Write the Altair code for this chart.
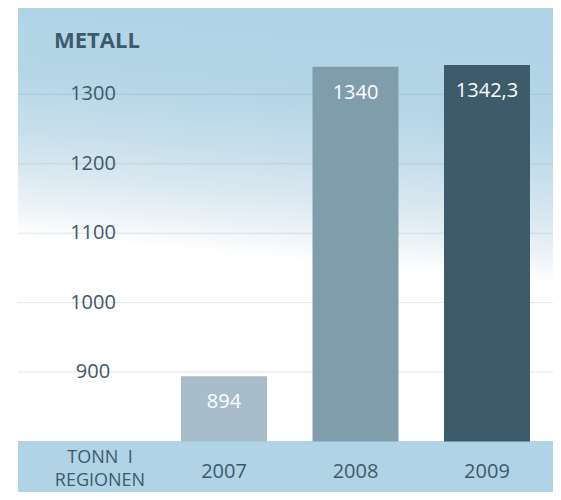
import altair as alt
import pandas as pd

# ---- data ----
years = ["2007", "2008", "2009"]
values = [894, 1340, 1342.3]
value_labels = ["894", "1340", "1342,3"]
bar_colors = ["#a7bdca", "#809dab", "#3e5b6c"]
y_ticks = [900, 1000, 1100, 1200, 1300]
title_text = "METALL"
unit_lines = ["TONN\u00a0\u00a0I", "REGIONEN"]

TEXT = "#3d5a6b"
FONT = "Open Sans"
W, H = 535, 484

bars_df = pd.DataFrame({"year": years, "value": values, "label": value_labels,
                        "base": [800] * len(years)})
ticks_df = pd.DataFrame({"tick": y_ticks})

yscale = alt.Scale(domain=[727.1, 1424.5], nice=False, zero=False)
xscale = alt.Scale(domain=years, range=[163, 512], paddingInner=0.346, paddingOuter=0)

one = pd.DataFrame({"k": [0]})

bg = alt.Chart(one).mark_rect(
    fill=alt.Gradient(
        gradient="linear",
        x1=0.1155, y1=0, x2=0, y2=1,
        stops=[
            alt.GradientStop(color="#b0d4e6", offset=0.0),
            alt.GradientStop(color="#b4d6e7", offset=0.16),
            alt.GradientStop(color="#c8dfeb", offset=0.29),
            alt.GradientStop(color="#dbe9f1", offset=0.39),
            alt.GradientStop(color="#eef4f8", offset=0.47),
            alt.GradientStop(color="#ffffff", offset=0.53),
            alt.GradientStop(color="#ffffff", offset=1.0),
        ],
    )
).encode(x=alt.value(0), x2=alt.value(W), y=alt.value(0), y2=alt.value(433))

band = alt.Chart(one).mark_rect(fill="#b0d4e6").encode(
    x=alt.value(0), x2=alt.value(W), y=alt.value(433), y2=alt.value(H))

grid = alt.Chart(ticks_df).mark_rule(stroke="#5f8196", strokeOpacity=0.18, strokeWidth=1).encode(
    y=alt.Y("tick:Q", scale=yscale, axis=None),
    x=alt.value(0), x2=alt.value(W))

tick_labels = alt.Chart(ticks_df).mark_text(
    font=FONT, fontSize=20, color=TEXT, align="center", baseline="middle"
).encode(y=alt.Y("tick:Q", scale=yscale, axis=None), x=alt.value(75), text="tick:Q")

bars = alt.Chart(bars_df).mark_bar().encode(
    x=alt.X("year:N", scale=xscale, axis=None),
    y=alt.Y("value:Q", scale=yscale, axis=None),
    y2="base:Q",
    color=alt.Color("year:N", scale=alt.Scale(domain=years, range=bar_colors), legend=None),
)

bar_text = alt.Chart(bars_df).mark_text(
    font=FONT, fontSize=20, color="white", align="center", baseline="middle", dy=26
).encode(x=alt.X("year:N", scale=xscale, axis=None),
         y=alt.Y("value:Q", scale=yscale, axis=None), text="label:N")

year_text = alt.Chart(bars_df).mark_text(
    font=FONT, fontSize=20, color=TEXT, align="center", baseline="middle"
).encode(x=alt.X("year:N", scale=xscale, axis=None), y=alt.value(464), text="year:N")

title = alt.Chart(one).mark_text(
    font=FONT, fontSize=22, fontWeight="bold", color=TEXT, align="left", baseline="middle", text=title_text
).encode(x=alt.value(36), y=alt.value(33))

unit1 = alt.Chart(one).mark_text(
    font=FONT, fontSize=18, color=TEXT, align="center", baseline="middle", text=unit_lines[0]
).encode(x=alt.value(82), y=alt.value(450))
unit2 = alt.Chart(one).mark_text(
    font=FONT, fontSize=18, color=TEXT, align="center", baseline="middle", text=unit_lines[1]
).encode(x=alt.value(82), y=alt.value(473))

chart = alt.layer(bg, band, grid, tick_labels, bars, bar_text, year_text, title, unit1, unit2).properties(
    width=W, height=H,
    autosize=alt.AutoSizeParams(type="none"),
    padding={"left": 10, "top": 0, "right": 0, "bottom": 0},
    background="white",
).configure_view(stroke=None)

chart.save("out.html", embed_options={"renderer": "svg", "actions": False})
